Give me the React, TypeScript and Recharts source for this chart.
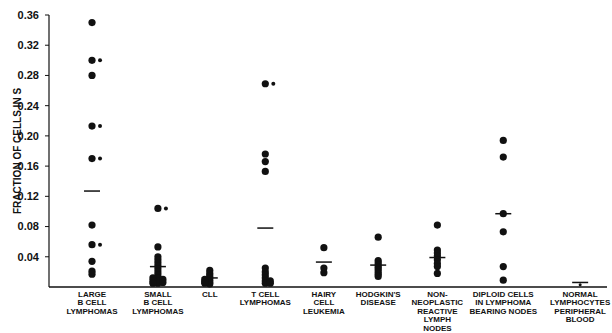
import React from 'react';
import { ScatterChart, Scatter, XAxis, YAxis } from 'recharts';

// Category labels (multi-line)
const categoryLabels: string[][] = [
  ['LARGE', 'B CELL', 'LYMPHOMAS'],
  ['SMALL', 'B CELL', 'LYMPHOMAS'],
  ['CLL'],
  ['T CELL', 'LYMPHOMAS'],
  ['HAIRY', 'CELL', 'LEUKEMIA'],
  ["HODGKIN'S", 'DISEASE'],
  ['NON-', 'NEOPLASTIC', 'REACTIVE', 'LYMPH', 'NODES'],
  ['DIPLOID CELLS', 'IN LYMPHOMA', 'BEARING NODES'],
  ['NORMAL', 'LYMPHOCYTES', 'PERIPHERAL', 'BLOOD'],
];
// Category slot centres on the x axis (axis units)
const categorySlots = [0, 1.08, 1.93, 2.84, 3.8, 4.69, 5.66, 6.74, 8.0];

const yTicks = [0.04, 0.08, 0.12, 0.16, 0.2, 0.24, 0.28, 0.32, 0.36];

// Main (large) dots per category
const largeB = [0.35, 0.3, 0.28, 0.213, 0.17, 0.082, 0.056, 0.034, 0.021, 0.017];
const smallB = [0.104, 0.053, 0.04, 0.036, 0.032, 0.028, 0.024, 0.02, 0.016, 0.012, 0.008, 0.005];
const cll = [0.022, 0.018, 0.015, 0.012, 0.009, 0.006, 0.004];
const tCell = [0.269, 0.176, 0.166, 0.153, 0.025, 0.02, 0.016, 0.012, 0.008, 0.005];
const hairy = [0.052, 0.025, 0.019];
const hodgkin = [0.066, 0.035, 0.032, 0.029, 0.026, 0.023, 0.02, 0.017, 0.014];
const nonNeo = [0.082, 0.049, 0.045, 0.041, 0.036, 0.031, 0.027, 0.018];
const diploid = [0.194, 0.172, 0.097, 0.073, 0.027, 0.009];
const normal: number[] = [];

// Secondary small paired dots (drawn just to the right of a main dot)
const pairedSmall: number[][] = [
  [0.3, 0.213, 0.17, 0.056],
  [0.104],
  [],
  [0.269],
  [], [], [], [], [],
];
// Extra dots widening the base of clusters
const leftSide: number[][] = [[], [0.012, 0.008, 0.005], [0.01, 0.007, 0.005], [], [], [], [], [], []];
const rightSide: number[][] = [[], [0.01, 0.006], [], [0.008, 0.005], [], [], [], [], []];
const tinyDots: number[][] = [[], [], [], [], [], [], [], [], [0.003]];

// Mean per category
const means = [0.127, 0.027, 0.012, 0.078, 0.033, 0.029, 0.039, 0.097, 0.006];

const mainByCat = [largeB, smallB, cll, tCell, hairy, hodgkin, nonNeo, diploid, normal];

const toPoints = (lists: number[][]) =>
  lists.flatMap((vals, i) => vals.map((v) => ({ x: categorySlots[i], y: v })));

const mainPts = toPoints(mainByCat);
const pairPts = toPoints(pairedSmall);
const leftPts = toPoints(leftSide);
const rightPts = toPoints(rightSide);
const tinyPts = toPoints(tinyDots);
const meanPts = means.map((m, i) => ({ x: categorySlots[i], y: m }));

const INK = '#111';
const FONT = '"Liberation Sans", Arial, Helvetica, sans-serif';

const dot = (r: number, off: number) => (p: any) => (
  <circle cx={p.cx + off} cy={p.cy} r={r} fill={INK} />
);
const meanShape = (p: any) => (
  <line x1={p.cx - 8} x2={p.cx + 8} y1={p.cy} y2={p.cy} stroke={INK} strokeWidth={1.5} />
);

const XTick = (props: any) => {
  const { x, payload } = props;
  const idx = categorySlots.indexOf(payload.value);
  const lines = categoryLabels[idx] || [];
  return (
    <text x={x} y={287} textAnchor="middle" fontFamily={FONT} fontWeight="bold" fontSize={8} fill={INK}>
      {lines.map((l, k) => (
        <tspan key={k} x={x} dy={k === 0 ? 9.5 : 8.6}>
          {l}
        </tspan>
      ))}
    </text>
  );
};

export default function App() {
  return (
    <div style={{ position: 'absolute', left: 0, top: 0, width: 612, height: 333, background: '#fff' }}>
      <ScatterChart width={612} height={333} margin={{ top: 15, right: 5, bottom: 0, left: 0 }}>
        <XAxis
          type="number"
          dataKey="x"
          domain={[-0.705, 8.44]}
          ticks={categorySlots}
          allowDataOverflow
          height={46}
          tickLine={false}
          axisLine={{ stroke: INK, strokeWidth: 1.5 }}
          tick={<XTick />}
          interval={0}
        />
        <YAxis
          type="number"
          dataKey="y"
          domain={[0, 0.36]}
          ticks={yTicks}
          width={49}
          tickSize={4}
          tickMargin={6}
          tickLine={{ stroke: INK }}
          axisLine={{ stroke: INK, strokeWidth: 1.2 }}
          tickFormatter={(v: number) => v.toFixed(2)}
          tick={{ fontFamily: FONT, fontWeight: 'bold', fontSize: 11, fill: INK }}
          label={{
            value: 'FRACTION OF CELLS IN S',
            angle: -90,
            position: 'insideLeft',
            offset: 17,
            style: { fontFamily: FONT, fontWeight: 'bold', fontSize: 10, fill: INK, textAnchor: 'middle' },
          }}
        />
        <Scatter data={mainPts} shape={dot(3.6, 0)} isAnimationActive={false} />
        <Scatter data={leftPts} shape={dot(3.6, -5)} isAnimationActive={false} />
        <Scatter data={rightPts} shape={dot(3.6, 5)} isAnimationActive={false} />
        <Scatter data={pairPts} shape={dot(2, 8)} isAnimationActive={false} />
        <Scatter data={tinyPts} shape={dot(1.5, 0)} isAnimationActive={false} />
        <Scatter data={meanPts} shape={meanShape} isAnimationActive={false} />
      </ScatterChart>
    </div>
  );
}
